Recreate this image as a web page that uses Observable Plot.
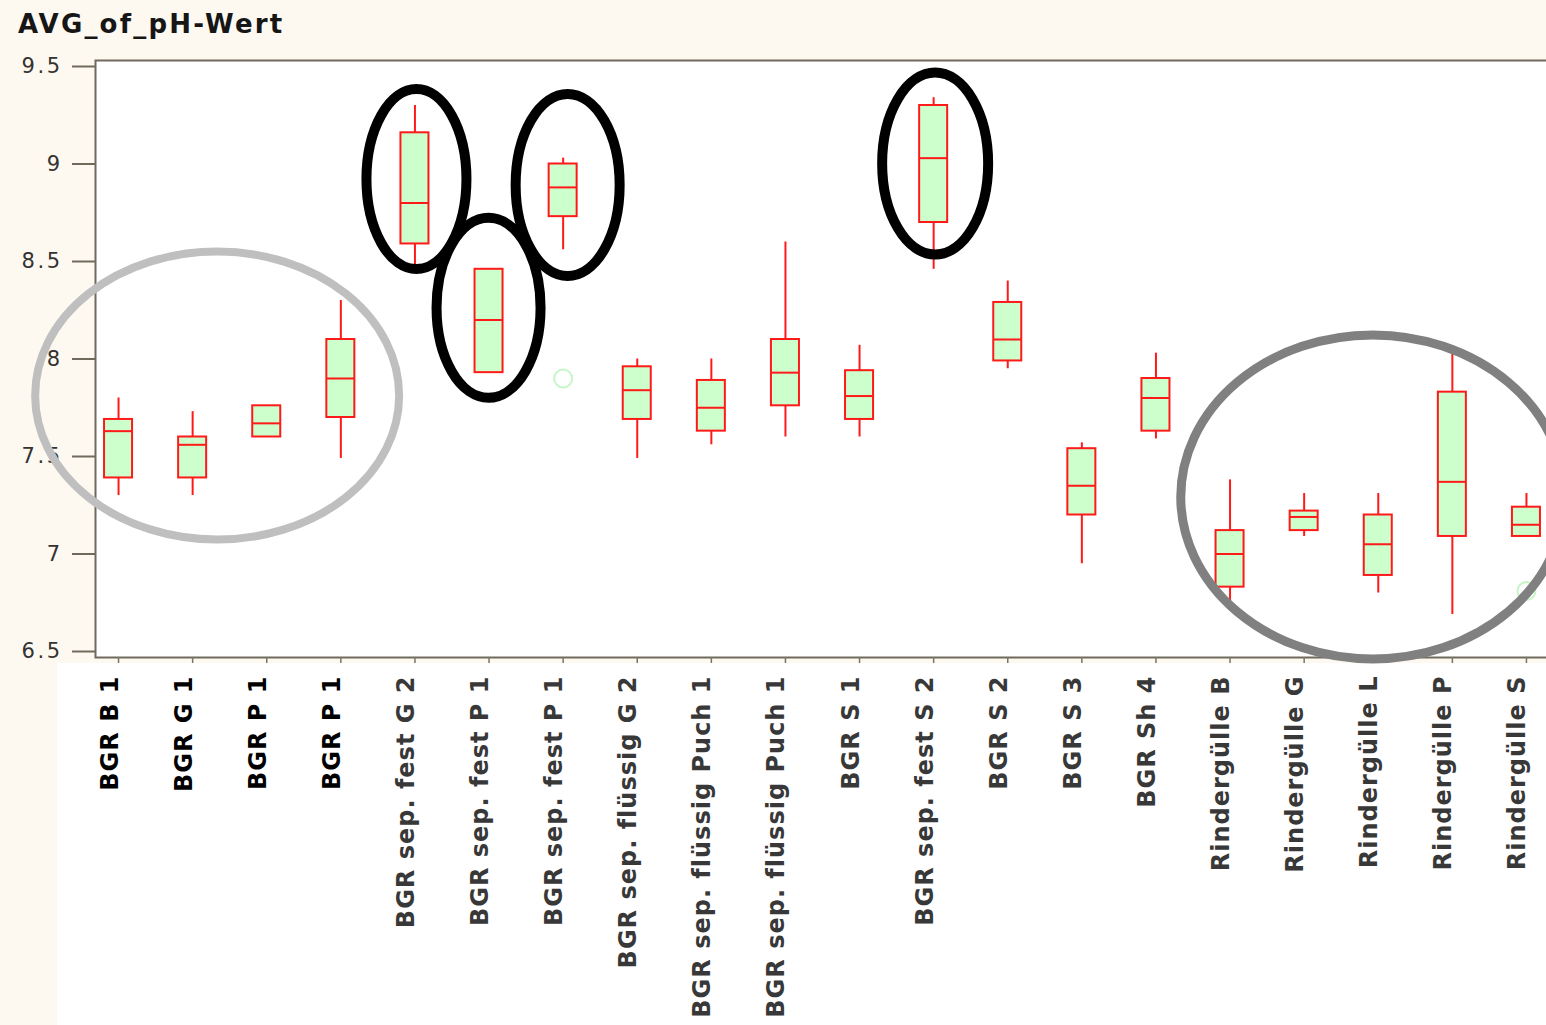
<!DOCTYPE html>
<html lang="de">
<head>
<meta charset="utf-8">
<title>AVG_of_pH-Wert</title>
<script src="https://cdn.jsdelivr.net/npm/d3@7"></script>
<script src="https://cdn.jsdelivr.net/npm/@observablehq/plot@0.6"></script>
<style>
  html, body { margin: 0; padding: 0; background: #fdf9f0; overflow: hidden; }
  #page { position: relative; width: 1546px; height: 1025px; overflow: hidden; }
  #title { height: 44px; box-sizing: border-box; padding: 11px 0 0 18px; font: bold 26px/26px "DejaVu Sans", sans-serif; letter-spacing: 2.2px; color: #161616; white-space: nowrap; }
  #labelBg { position: absolute; left: 57px; top: 663px; right: 0; bottom: 0; background: #fff; }
  #chart { position: relative; }
</style>
</head>
<body>
<div id="page">
  <div id="labelBg"></div>
  <div id="title">AVG_of_pH-Wert</div>
  <div id="chart"></div>
</div>
<script>
// Sample groups along the x axis (some names occur twice, so each gets its own key)
const categories = [
  "BGR B 1", "BGR G 1", "BGR P 1", "BGR P 1",
  "BGR sep. fest G 2", "BGR sep. fest P 1", "BGR sep. fest P 1",
  "BGR sep. flüssig G 2", "BGR sep. flüssig Puch 1", "BGR sep. flüssig Puch 1",
  "BGR S 1", "BGR sep. fest S 2", "BGR S 2", "BGR S 3", "BGR Sh 4",
  "Rindergülle B", "Rindergülle G", "Rindergülle L", "Rindergülle P", "Rindergülle S"
];
const keys = categories.map((_, i) => "g" + i);

// pH box-plot statistics per group
const whiskerLow  = [7.30, 7.30, 7.60, 7.49, 8.46, 7.93, 8.56, 7.49, 7.56, 7.60, 7.60, 8.46, 7.95, 6.95, 7.59, 6.73, 7.09, 6.80, 6.69, 7.09];
const quartile1   = [7.39, 7.39, 7.60, 7.70, 8.59, 7.93, 8.73, 7.69, 7.63, 7.76, 7.69, 8.70, 7.99, 7.20, 7.63, 6.83, 7.12, 6.89, 7.09, 7.09];
const median      = [7.63, 7.56, 7.67, 7.90, 8.80, 8.20, 8.88, 7.84, 7.75, 7.93, 7.81, 9.03, 8.10, 7.35, 7.80, 7.00, 7.19, 7.05, 7.37, 7.15];
const quartile3   = [7.69, 7.60, 7.76, 8.10, 9.16, 8.46, 9.00, 7.96, 7.89, 8.10, 7.94, 9.30, 8.29, 7.54, 7.90, 7.12, 7.22, 7.20, 7.83, 7.24];
const whiskerHigh = [7.80, 7.73, 7.76, 8.30, 9.30, 8.46, 9.03, 8.00, 8.00, 8.60, 8.07, 9.34, 8.40, 7.57, 8.03, 7.38, 7.31, 7.31, 8.03, 7.31];

// Outliers: group index and pH value
const outlierGroup = [6, 19];
const outlierValue = [7.90, 6.81];

// Y axis ticks
const yTicks = [6.5, 7, 7.5, 8, 8.5, 9, 9.5];
const yTickLabels = ["6.5", "7", "7.5", "8", "8.5", "9", "9.5"];

const rows = categories.map((label, i) => ({
  key: keys[i], label, idx: i,
  lo: whiskerLow[i], q1: quartile1[i], med: median[i], q3: quartile3[i], hi: whiskerHigh[i]
}));
const outliers = outlierGroup.map((g, j) => ({key: keys[g], value: outlierValue[j]}));

const bandPadInner = 0.622, bandPadOuter = 0.122;

const chart = Plot.plot({
  width: 1552,
  height: 981,
  marginLeft: 95,
  marginRight: 3,
  marginTop: 16,
  marginBottom: 368,
  style: {background: "transparent", maxWidth: "none", overflow: "visible", fontFamily: "'DejaVu Sans', sans-serif"},
  x: {type: "band", domain: keys, paddingInner: bandPadInner, paddingOuter: bandPadOuter, round: false, label: null},
  y: {domain: [6.5, 9.5], insetTop: 6, insetBottom: 6, label: null},
  marks: [
    Plot.frame({fill: "white", stroke: "#6f6a5c", strokeWidth: 2}),
    Plot.axisY({
      ticks: yTicks,
      tickFormat: v => yTickLabels[yTicks.indexOf(v)],
      tickSize: 23, tickPadding: 10, fontSize: 21,
      stroke: "#6f6a5c", strokeWidth: 2, fill: "#333", label: null
    }),
    Plot.axisX({tickSize: 6, tickFormat: () => "", stroke: "#7a7466", strokeWidth: 1.5, label: null}),
    // whiskers
    Plot.ruleX(rows, {x: "key", y1: "lo", y2: "hi", stroke: "#ff1a1a", strokeWidth: 2}),
    // interquartile boxes
    Plot.barY(rows, {x: "key", y1: "q1", y2: "q3", fill: "#ccffcc", stroke: "#ff1a1a", strokeWidth: 2}),
    // medians
    Plot.tickY(rows, {x: "key", y: "med", stroke: "#ff1a1a", strokeWidth: 2}),
    // outliers
    Plot.dot(outliers, {x: "key", y: "value", r: 9, stroke: "#c6f5c6", strokeWidth: 2, fill: "none"}),
    // rotated group names
    Plot.text(rows, {
      x: "key", text: "label", frameAnchor: "bottom",
      rotate: -90, textAnchor: "end", lineAnchor: "bottom",
      dy: 18, dx: -1, fontSize: 24, fontWeight: "bold",
      fill: d => d.idx < 4 ? "#000000" : "#383838"
    })
  ]
});

document.getElementById("chart").appendChild(chart);

const svg = d3.select(chart.tagName.toLowerCase() === "svg" ? chart : chart.querySelector("svg"));
svg.selectAll('g[aria-label="y-axis tick label"] text').style("letter-spacing", "2.5px");
svg.selectAll('g[aria-label="text"] text').style("letter-spacing", "1px");

// Highlight rings drawn on top, placed with the chart's own scales
const xs = chart.scale("x"), ys = chart.scale("y");
const xBand = d3.scaleBand(xs.domain, xs.range).paddingInner(bandPadInner).paddingOuter(bandPadOuter);
const yLin = d3.scaleLinear(ys.domain, ys.range);
const xCenter = k => xBand(k) + xBand.bandwidth() / 2;

const rings = [
  {group: 1,  dx: 25, value: 7.81, rx: 182, ry: 144, color: "#bfbfbf", width: 8},
  {group: 4,  dx: 2,  value: 8.92, rx: 50,  ry: 90,  color: "#000000", width: 10},
  {group: 5,  dx: 0,  value: 8.26, rx: 52,  ry: 90,  color: "#000000", width: 10},
  {group: 6,  dx: 5,  value: 8.89, rx: 52,  ry: 91,  color: "#000000", width: 10},
  {group: 11, dx: 2,  value: 9.00, rx: 53,  ry: 91,  color: "#000000", width: 10},
  {group: 17, dx: -5, value: 7.29, rx: 192, ry: 162, color: "#808080", width: 9}
];

svg.append("g")
  .attr("aria-label", "highlight rings")
  .selectAll("ellipse")
  .data(rings)
  .join("ellipse")
  .attr("cx", r => xCenter(keys[r.group]) + r.dx)
  .attr("cy", r => yLin(r.value))
  .attr("rx", r => r.rx)
  .attr("ry", r => r.ry)
  .attr("fill", "none")
  .attr("stroke", r => r.color)
  .attr("stroke-width", r => r.width);
</script>
</body>
</html>
